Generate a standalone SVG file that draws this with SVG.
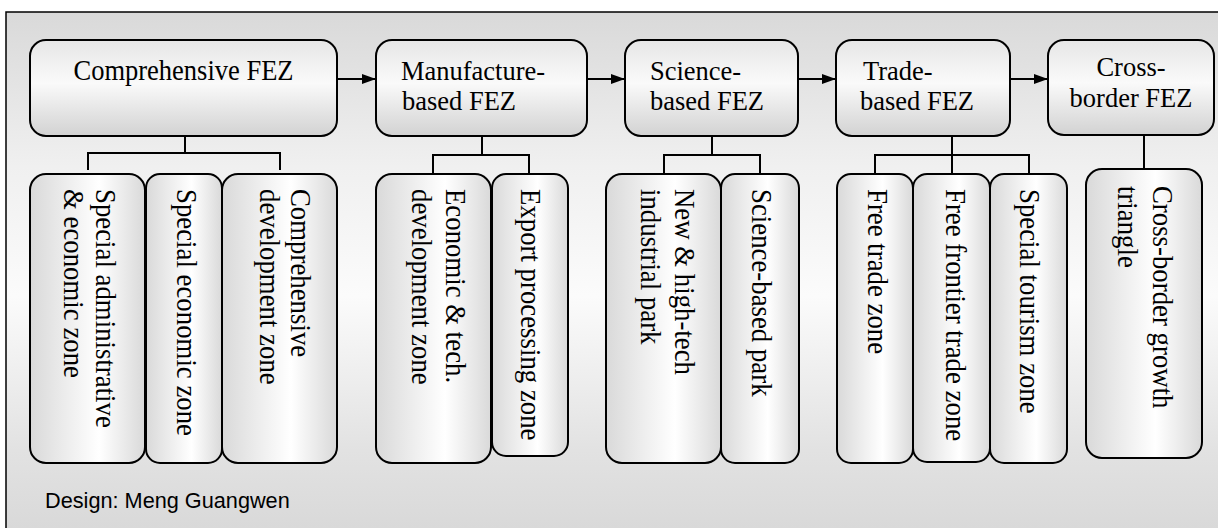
<svg xmlns="http://www.w3.org/2000/svg" width="1218" height="528" viewBox="0 0 1218 528">
  <defs>
    <linearGradient id="bg" gradientUnits="userSpaceOnUse" x1="0" y1="12" x2="0" y2="528">
      <stop offset="0" stop-color="#d9d9d9"/>
      <stop offset="0.3" stop-color="#f0f0f0"/>
      <stop offset="0.55" stop-color="#fbfbfb"/>
      <stop offset="0.85" stop-color="#e2e2e2"/>
      <stop offset="1" stop-color="#d9d9d9"/>
    </linearGradient>
    <linearGradient id="topFill" x1="0" y1="0" x2="0" y2="1">
      <stop offset="0" stop-color="#e6e6e6"/>
      <stop offset="0.45" stop-color="#fafafa"/>
      <stop offset="1" stop-color="#d2d2d2"/>
    </linearGradient>
    <linearGradient id="subFill" x1="0" y1="0" x2="1" y2="0">
      <stop offset="0" stop-color="#d9d9d9"/>
      <stop offset="0.6" stop-color="#ffffff"/>
      <stop offset="1" stop-color="#d9d9d9"/>
    </linearGradient>
    <marker id="arrow" markerWidth="14" markerHeight="10" refX="14" refY="5" orient="auto" markerUnits="userSpaceOnUse">
      <path d="M0,0 L14,5 L0,10 Z" fill="#000"/>
    </marker>
  </defs>
  <style>
    .top { fill: url(#topFill); stroke: #000; stroke-width: 2; }
    .sub { fill: url(#subFill); stroke: #000; stroke-width: 2; }
    .lbl { font-family: "Liberation Serif", "Times New Roman", serif; font-size: 26.5px; fill: #000; }
    .vlbl { font-family: "Liberation Serif", "Times New Roman", serif; font-size: 26.8px; fill: #000; }
    .conn { fill: none; stroke: #000; stroke-width: 2; }
    .credit { font-family: "Liberation Sans", Arial, sans-serif; font-size: 21.7px; fill: #000; }
  </style>

  <!-- frame -->
  <rect x="6" y="12" width="1240" height="540" fill="url(#bg)" stroke="#000" stroke-width="1.5"/>

  <!-- connectors -->
  <g id="connectors" class="conn">
    <path d="M337,79 H376" marker-end="url(#arrow)"/>
    <path d="M587,79 H625" marker-end="url(#arrow)"/>
    <path d="M798,79 H836" marker-end="url(#arrow)"/>
    <path d="M1010,79 H1048" marker-end="url(#arrow)"/>
    <path d="M185,136 V153 M88,170 V153 H280 V170"/>
    <path d="M482,136 V155 M433,173 V155 H529 V173"/>
    <path d="M712,136 V155 M664,173 V155 H760 V173"/>
    <path d="M952,136 V173 M875,173 V155 H1029 V173"/>
    <path d="M1144,136 V169"/>
  </g>

  <!-- main categories -->
  <g id="comprehensive-fez">
    <rect class="top" x="30" y="40" width="307" height="96" rx="16"/>
    <text class="lbl" transform="translate(183.5,80) scale(1,1.08)" text-anchor="middle">Comprehensive FEZ</text>
  </g>
  <g id="manufacture-fez">
    <rect class="top" x="376" y="40" width="211" height="96" rx="16"/>
    <text class="lbl" transform="translate(401,80) scale(1,1.02)">Manufacture-</text>
    <text class="lbl" transform="translate(402,110) scale(1,1.02)">based FEZ</text>
  </g>
  <g id="science-fez">
    <rect class="top" x="625" y="40" width="173" height="96" rx="16"/>
    <text class="lbl" transform="translate(650,80) scale(1,1.02)">Science-</text>
    <text class="lbl" transform="translate(650,110) scale(1,1.02)">based FEZ</text>
  </g>
  <g id="trade-fez">
    <rect class="top" x="836" y="40" width="174" height="96" rx="16"/>
    <text class="lbl" transform="translate(863,80) scale(1,1.02)">Trade-</text>
    <text class="lbl" transform="translate(860,110) scale(1,1.02)">based FEZ</text>
  </g>
  <g id="crossborder-fez">
    <rect class="top" x="1048" y="40" width="166" height="95" rx="16"/>
    <text class="lbl" transform="translate(1131,76) scale(1,1.04)" text-anchor="middle" font-size="25">Cross-</text>
    <text class="lbl" transform="translate(1131,107) scale(1,1.04)" text-anchor="middle" font-size="25">border FEZ</text>
  </g>

  <!-- sub-types -->
  <g id="special-admin-zone">
    <rect class="sub" x="30" y="174" width="115" height="289" rx="16"/>
    <text class="vlbl" transform="translate(96,189) rotate(90) scale(1,1.06)">Special administrative</text>
    <text class="vlbl" transform="translate(64,189) rotate(90) scale(1,1.06)">&amp; economic zone</text>
  </g>
  <g id="special-economic-zone">
    <rect class="sub" x="146" y="174" width="76" height="289" rx="14"/>
    <text class="vlbl" transform="translate(177,189) rotate(90) scale(1,1.06)">Special economic zone</text>
  </g>
  <g id="comprehensive-dev-zone">
    <rect class="sub" x="222" y="174" width="115" height="289" rx="16"/>
    <text class="vlbl" transform="translate(291,189) rotate(90) scale(1,1.06)">Comprehensive</text>
    <text class="vlbl" transform="translate(260,189) rotate(90) scale(1,1.06)">development zone</text>
  </g>
  <g id="econ-tech-zone">
    <rect class="sub" x="376" y="174" width="115" height="289" rx="16"/>
    <text class="vlbl" transform="translate(446,189) rotate(90) scale(1,1.06)">Economic &amp; tech.</text>
    <text class="vlbl" transform="translate(412,189) rotate(90) scale(1,1.06)">development zone</text>
  </g>
  <g id="export-processing-zone">
    <rect class="sub" x="492" y="174" width="76" height="282" rx="14"/>
    <text class="vlbl" transform="translate(521,189) rotate(90) scale(1,1.06)">Export processing zone</text>
  </g>
  <g id="hightech-park">
    <rect class="sub" x="606" y="174" width="115" height="289" rx="16"/>
    <text class="vlbl" transform="translate(675,189) rotate(90) scale(1,1.06)">New &amp; high-tech</text>
    <text class="vlbl" transform="translate(641,189) rotate(90) scale(1,1.06)">industrial park</text>
  </g>
  <g id="science-park">
    <rect class="sub" x="721" y="174" width="78" height="289" rx="14"/>
    <text class="vlbl" transform="translate(752,189) rotate(90) scale(1,1.06)">Science-based park</text>
  </g>
  <g id="free-trade-zone">
    <rect class="sub" x="837" y="174" width="76" height="289" rx="14"/>
    <text class="vlbl" transform="translate(868,189) rotate(90) scale(1,1.06)">Free trade zone</text>
  </g>
  <g id="frontier-trade-zone">
    <rect class="sub" x="913" y="174" width="77" height="288" rx="14"/>
    <text class="vlbl" transform="translate(946,189) rotate(90) scale(1,1.06)">Free frontier trade zone</text>
  </g>
  <g id="tourism-zone">
    <rect class="sub" x="990" y="174" width="77" height="289" rx="14"/>
    <text class="vlbl" transform="translate(1020,189) rotate(90) scale(1,1.06)">Special tourism zone</text>
  </g>
  <g id="growth-triangle">
    <rect class="sub" x="1086" y="169" width="116" height="289" rx="16"/>
    <text class="vlbl" transform="translate(1153,186) rotate(90) scale(1,1.06)">Cross-border growth</text>
    <text class="vlbl" transform="translate(1118,186) rotate(90) scale(1,1.06)">triangle</text>
  </g>

  <text class="credit" x="45" y="508">Design: Meng Guangwen</text>
</svg>
